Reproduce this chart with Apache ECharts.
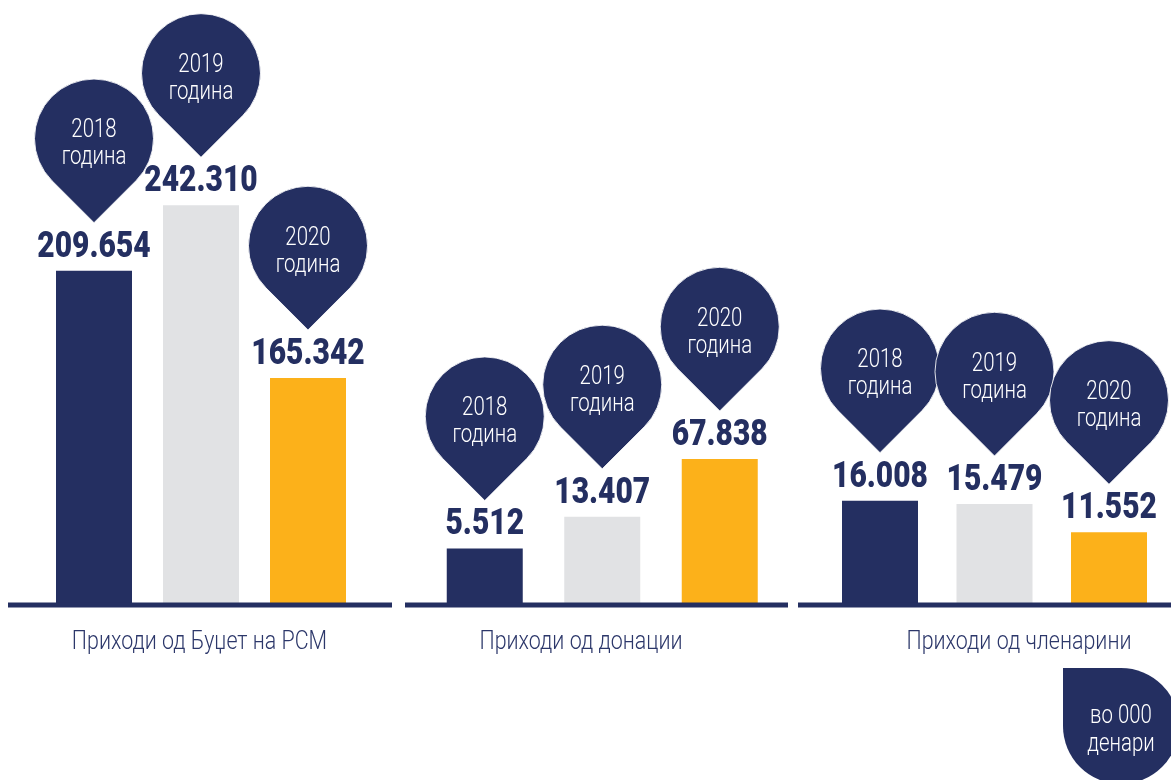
<!DOCTYPE html>
<html>
<head>
<meta charset="utf-8">
<script src="https://cdn.jsdelivr.net/npm/echarts@6/dist/echarts.min.js"></script>
<style>
  html, body { margin: 0; padding: 0; background: #ffffff; }
  #chart { width: 1171px; height: 780px; }
</style>
</head>
<body>
<div id="chart"></div>
<script>
// Revenue by source, in thousands of denars
const years = ['2018', '2019', '2020'];
const budgetRevenue = [209.654, 242.310, 165.342];
const donationRevenue = [5.512, 13.407, 67.838];
const membershipRevenue = [16.008, 15.479, 11.552];
const panelTitles = ['Приходи од Буџет на РСМ', 'Приходи од донации', 'Приходи од членарини'];
const yearWord = 'година';
const unitNote = 'во 000\nденари';

// Palette and type
const NAVY = '#242f61';
const GREY = '#e1e2e4';
const ORANGE = '#fcb11a';
const TITLE_COLOR = '#2c376a';
const yearColors = [NAVY, GREY, ORANGE];
const FONT = 'Roboto, "Liberation Sans", sans-serif';
const NARROW = 0.84; // horizontal squeeze for a condensed look

// Each panel has its own log-scaled value axis
const GRID_TOP = 5;
const GRID_HEIGHT = 600;
const BASE_Y = GRID_TOP + GRID_HEIGHT;
const panels = [
  { values: budgetRevenue, left: 40.5, width: 321, min: 100, max: 377.6, titleX: 199.5, lineFrom: 8, lineTo: 392 },
  { values: donationRevenue, left: 426, width: 352.5, min: 1.136, max: 2.25e7, titleX: 581, lineFrom: 405, lineTo: 788 },
  { values: membershipRevenue, left: 822.75, width: 343.5, min: 5.46, max: 2655, titleX: 1019, lineFrom: 798, lineTo: 1171 }
];

const PIN_R = 59.5;
const PIN_GAP = 48;     // bar top to the pin's tip
const LABEL_MID = 23.5; // bar top to the middle of the value label

function pinPath(cx, tipY, r) {
  const cy = tipY - r * Math.SQRT2;
  const k = r / Math.SQRT2;
  return 'M' + cx + ' ' + tipY +
    ' L' + (cx - k) + ' ' + (cy + k) +
    ' A' + r + ' ' + r + ' 0 1 1 ' + (cx + k) + ' ' + (cy + k) + ' Z';
}

function formatValue(v) {
  return v.toFixed(3);
}

const grid = [], xAxis = [], yAxis = [], series = [], graphic = [];

panels.forEach((p, i) => {
  grid.push({ left: p.left, top: GRID_TOP, width: p.width, height: GRID_HEIGHT, containLabel: false });
  xAxis.push({ type: 'category', gridIndex: i, data: years, show: false, boundaryGap: true });
  yAxis.push({ type: 'log', logBase: 10, gridIndex: i, min: p.min, max: p.max, show: false });

  series.push({
    type: 'bar',
    xAxisIndex: i,
    yAxisIndex: i,
    barWidth: 76,
    clip: true,
    silent: true,
    data: p.values.map((v, j) => ({ value: v, itemStyle: { color: yearColors[j] } }))
  });

  // value label and year pin above each bar
  series.push({
    type: 'custom',
    xAxisIndex: i,
    yAxisIndex: i,
    z: 5,
    silent: true,
    clip: false,
    data: p.values.map((v, j) => [j, v]),
    renderItem: (params, api) => {
      const value = api.value(1);
      const pt = api.coord([api.value(0), value]);
      const tipY = pt[1] - PIN_GAP;
      const cy = tipY - PIN_R * Math.SQRT2;
      return {
        type: 'group',
        children: [
          {
            type: 'text',
            x: pt[0],
            y: pt[1] - LABEL_MID,
            scaleX: 0.8,
            style: {
              text: formatValue(value),
              fill: NAVY,
              fontFamily: FONT,
              fontWeight: 900,
              fontSize: 37.5,
              align: 'center',
              verticalAlign: 'middle'
            }
          },
          {
            type: 'path',
            shape: { pathData: pinPath(pt[0], tipY, PIN_R) },
            style: { fill: NAVY, stroke: 'rgba(255,255,255,0.85)', lineWidth: 1 }
          },
          {
            type: 'text',
            x: pt[0],
            y: cy + 6,
            scaleX: 0.8,
            style: {
              text: years[params.dataIndex] + '\n' + yearWord,
              fill: '#ffffff',
              fontFamily: FONT,
              fontWeight: 300,
              fontSize: 25.5,
              lineHeight: 27,
              align: 'center',
              verticalAlign: 'middle'
            }
          }
        ]
      };
    }
  });

  // baseline under each panel
  graphic.push({
    type: 'rect',
    shape: { x: p.lineFrom, y: BASE_Y - 2.5, width: p.lineTo - p.lineFrom, height: 5 },
    style: { fill: NAVY },
    z: 10,
    silent: true
  });

  // panel caption
  graphic.push({
    type: 'text',
    x: p.titleX,
    y: 643,
    scaleX: NARROW,
    style: {
      text: panelTitles[i],
      fill: TITLE_COLOR,
      fontFamily: FONT,
      fontWeight: 300,
      fontSize: 25.5,
      align: 'center',
      verticalAlign: 'middle',
      textAlign: 'center',
      textVerticalAlign: 'middle'
    },
    silent: true
  });
});

// unit note in the lower right corner: a circle joined with its upper-left square quadrant
graphic.push({
  type: 'group',
  silent: true,
  children: [
    { type: 'circle', shape: { cx: 1121, cy: 726, r: 58 }, style: { fill: NAVY } },
    { type: 'rect', shape: { x: 1063, y: 668, width: 58, height: 58 }, style: { fill: NAVY } },
    {
      type: 'text',
      x: 1121,
      y: 731,
      scaleX: 0.8,
      style: {
        text: unitNote,
        fill: '#ffffff',
        fontFamily: FONT,
        fontWeight: 300,
        fontSize: 25.5,
        lineHeight: 28,
        align: 'center',
        verticalAlign: 'middle',
        textAlign: 'center',
        textVerticalAlign: 'middle'
      }
    }
  ]
});

const chart = echarts.init(document.getElementById('chart'), null, { renderer: 'canvas' });
chart.setOption({
  animation: false,
  backgroundColor: '#ffffff',
  grid: grid,
  xAxis: xAxis,
  yAxis: yAxis,
  series: series,
  graphic: { elements: graphic }
});
</script>
</body>
</html>
